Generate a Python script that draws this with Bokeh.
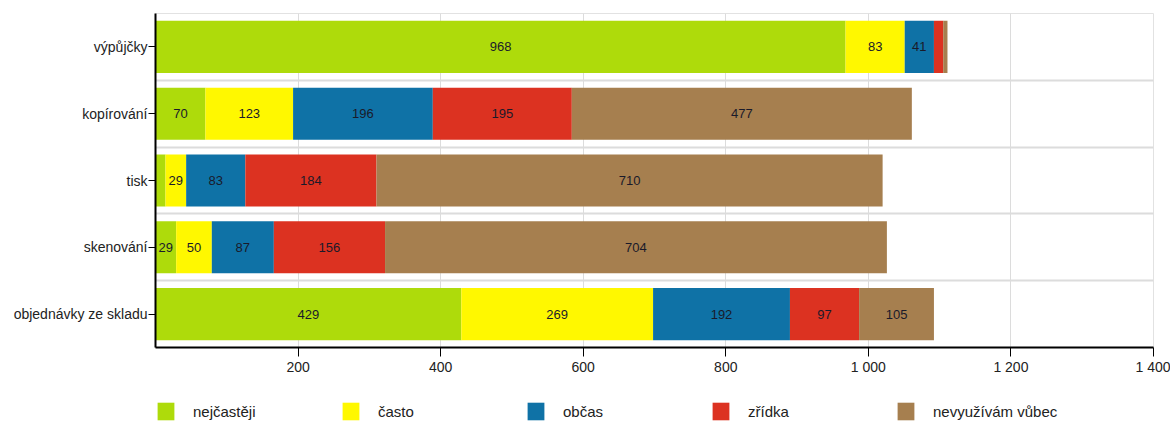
from bokeh.plotting import figure
from bokeh.layouts import column
from bokeh.models import ColumnDataSource, FixedTicker, Legend, LegendItem, Range1d
from bokeh.core.properties import value
from bokeh.embed import file_html
from bokeh.resources import INLINE

categories = ["výpůjčky", "kopírování", "tisk", "skenování", "objednávky ze skladu"]
series = ["nejčastěji", "často", "občas", "zřídka", "nevyužívám vůbec"]
nejcasteji = [968, 70, 14, 29, 429]
casto = [83, 123, 29, 50, 269]
obcas = [41, 196, 83, 87, 192]
zridka = [13, 195, 184, 156, 97]
nevyuzivam = [6, 477, 710, 704, 105]
x_ticks = [200, 400, 600, 800, 1000, 1200, 1400]
x_tick_labels = ["200", "400", "600", "800", "1 000", "1 200", "1 400"]

colors = ["#AEDB0B", "#FFF800", "#0F72A6", "#DC3221", "#A67F4F"]
FONT = "Liberation Sans"

n = len(categories)
ypos = [n - i - 0.5 for i in range(n)]
keys = ["s0", "s1", "s2", "s3", "s4"]
data_series = [nejcasteji, casto, obcas, zridka, nevyuzivam]

src = ColumnDataSource(dict(y=ypos, **{k: v for k, v in zip(keys, data_series)}))

p = figure(width=1170, height=392, output_backend="svg", toolbar_location=None,
           x_range=Range1d(0, 1400), y_range=Range1d(0, n),
           min_border_left=155, min_border_right=17, min_border_top=13, min_border_bottom=45)

renderers = p.hbar_stack(keys, y="y", height=0.78, color=colors, line_alpha=0, source=src)

# segment labels
lx, ly, lt = [], [], []
for j in range(n):
    left = 0
    for s in data_series:
        v = s[j]
        if v >= 20:
            lx.append(left + v / 2)
            ly.append(ypos[j])
            lt.append(str(v))
        left += v
p.text(x=lx, y=ly, text=lt, text_align="center", text_baseline="middle",
       text_font=value(FONT), text_font_size="13px", text_color="#1a1a2a")

# axes
p.xaxis.ticker = FixedTicker(ticks=x_ticks)
p.xaxis.major_label_overrides = {t: l for t, l in zip(x_ticks, x_tick_labels)}
p.yaxis.ticker = FixedTicker(ticks=ypos)
p.yaxis.major_label_overrides = {y: c for y, c in zip(ypos, categories)}
for ax in (p.xaxis, p.yaxis):
    ax.axis_line_color = "black"
    ax.axis_line_width = 2
    ax.major_tick_line_color = "black"
    ax.major_tick_line_width = 1
    ax.major_tick_in = 0
    ax.minor_tick_line_color = None
    ax.major_label_text_font = FONT
    ax.major_label_text_font_size = "14px"
    ax.major_label_text_color = "#222222"
p.xaxis.major_tick_out = 9
p.xaxis.major_label_standoff = 2
p.yaxis.major_tick_out = 7
p.yaxis.major_label_standoff = 1

p.xgrid.ticker = FixedTicker(ticks=x_ticks)
p.ygrid.ticker = FixedTicker(ticks=list(range(1, n + 1)))
p.xgrid.grid_line_color = "#dcdcdc"
p.ygrid.grid_line_color = "#dcdcdc"
p.ygrid.grid_line_width = 2
p.outline_line_color = "#e2e2e2"

# legend strip (its own small figure below the chart)
lf = figure(width=1170, height=30, output_backend="svg", toolbar_location=None,
            x_axis_type=None, y_axis_type=None, min_border=0,
            x_range=Range1d(0, 1), y_range=Range1d(0, 1))
lf.outline_line_color = None
lf.grid.visible = False
leg_renderers = [lf.hbar(y=[0], left=[0], right=[0], height=0, color=c, line_alpha=0)
                 for c in colors]
legend = Legend(items=[LegendItem(label=s, renderers=[r]) for s, r in zip(series, leg_renderers)],
                location=(0, 0), orientation="horizontal",
                glyph_width=21, glyph_height=22, label_standoff=17, label_width=130,
                spacing=17, padding=0, margin=0,
                border_line_alpha=0, background_fill_alpha=0,
                label_text_font=FONT, label_text_font_size="15px", label_text_color="#222222")
lf.add_layout(legend, "center")

layout = column(p, lf, spacing=0)
open("out.html", "w").write(file_html(layout, INLINE))
